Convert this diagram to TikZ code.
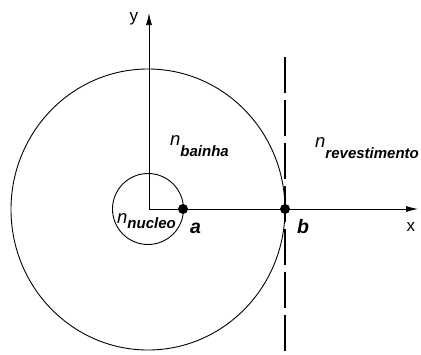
\documentclass[tikz,border=0pt]{standalone}
\usepackage{fontspec}
\setmainfont{Liberation Sans}
\usetikzlibrary{arrows.meta}
\begin{document}
\begin{tikzpicture}[x=1pt,y=-1pt,
  curve/.style={line width=0.9pt},
  axis/.style={line width=0.7pt,-{Latex[length=12pt,width=6pt]}},
  dashline/.style={line width=1.2pt,dash pattern=on 36pt off 7pt},
  dot/.style={circle,fill=black,inner sep=0pt,minimum size=10pt},
  lbl/.style={inner sep=0pt,anchor=base west},
  mainn/.style={font=\fontsize{18.5}{20}\selectfont\itshape},
  axlbl/.style={inner sep=0pt,anchor=base west,font=\fontsize{17}{18}\selectfont},
  ptlbl/.style={inner sep=0pt,anchor=base west,font=\fontsize{19.5}{22}\selectfont\bfseries\itshape}]
\newcommand{\subtxt}[2]{\raisebox{-#1pt}{\fontsize{15}{16}\selectfont\bfseries\itshape #2}}
\useasboundingbox (0,0) rectangle (421,354);
% circles
\draw[curve] (148,209.5) ellipse [x radius=137pt, y radius=140.5pt];
\draw[curve] (148,209) circle [radius=35.5pt];
% dashed line
\coordinate (dtop) at (285,57);
\coordinate (dbot) at (285,354);
\draw[dashline] (dtop) -- (dbot);
% axes
\coordinate (O) at (149,209);
\coordinate (ytip) at (149,13);
\coordinate (xtip) at (418,209);
\draw[axis] (O) -- (ytip);
\draw[axis] (O) -- (xtip);
% points
\node[dot] (a) at (183,209) {};
\node[dot] (b) at (285,209) {};
% labels
\node[axlbl] (ylbl) at (129.5,21.5) {y};
\node[axlbl] (xlbl) at (406.5,231) {x};
\node[ptlbl] (albl) at (190,233) {a};
\node[ptlbl] (blbl) at (297,233) {b};
\node[lbl,mainn] (nb) at (170,145) {n\subtxt{11}{bainha}};
\node[lbl,mainn] (nr) at (315,147) {n\subtxt{11}{revestimento}};
\node[lbl,mainn] (nn) at (117,223) {n\subtxt{5}{nucleo}};
\end{tikzpicture}
\end{document}
